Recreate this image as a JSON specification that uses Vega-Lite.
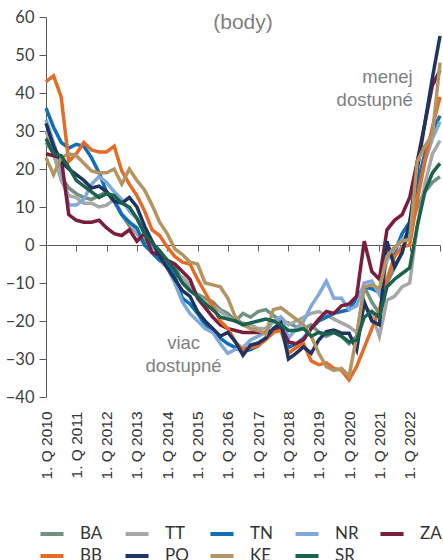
{
"$schema":"https://vega.github.io/schema/vega-lite/v6.json",
"width":394,"height":380,
"autosize":{"type":"none"},
"padding":{"left":46,"top":17,"right":3,"bottom":163},
"background":"white",
"config":{"view":{"stroke":null},"font":"Liberation Sans","axisY":{"labelOverlap":false,"labelFlush":false}},
"title":{"text":"(body)","fontSize":21,"fontWeight":"normal","color":"#7f7f7f","font":"Liberation Sans","anchor":"middle","offset":-24},
"datasets":{
"idx":[
{"t":2010.00,"BA":27,"BB":43,"TT":30,"PO":32,"TN":36,"KE":23,"NR":33,"SR":28,"ZA":24},
{"t":2010.25,"BA":24,"BB":44.5,"TT":24,"PO":26,"TN":31,"KE":18.5,"NR":27,"SR":24,"ZA":23.5},
{"t":2010.50,"BA":18,"BB":39,"TT":17,"PO":22,"TN":27,"KE":23,"NR":20,"SR":23.5,"ZA":23},
{"t":2010.75,"BA":15,"BB":22,"TT":13,"PO":20,"TN":25.5,"KE":24,"NR":10.5,"SR":20.5,"ZA":8},
{"t":2011.00,"BA":13.5,"BB":24,"TT":12.5,"PO":18.5,"TN":26.5,"KE":23.5,"NR":10.5,"SR":17,"ZA":6.5},
{"t":2011.25,"BA":12.5,"BB":27,"TT":11,"PO":17,"TN":26,"KE":21.5,"NR":12,"SR":15.5,"ZA":6},
{"t":2011.50,"BA":12,"BB":25,"TT":11,"PO":15,"TN":23,"KE":19.5,"NR":16,"SR":14,"ZA":6},
{"t":2011.75,"BA":13,"BB":24.5,"TT":10,"PO":15.5,"TN":19,"KE":19,"NR":18,"SR":12.5,"ZA":6.5},
{"t":2012.00,"BA":14,"BB":24.5,"TT":10.5,"PO":14,"TN":14,"KE":19,"NR":16.5,"SR":13.5,"ZA":4.5},
{"t":2012.25,"BA":12,"BB":26,"TT":12,"PO":11.5,"TN":11.5,"KE":20,"NR":14,"SR":13,"ZA":3},
{"t":2012.50,"BA":8,"BB":19.5,"TT":8,"PO":11,"TN":8,"KE":16,"NR":12,"SR":11,"ZA":2.5},
{"t":2012.75,"BA":5,"BB":16,"TT":6,"PO":12.5,"TN":6,"KE":20,"NR":9,"SR":10,"ZA":4},
{"t":2013.00,"BA":3,"BB":13,"TT":3,"PO":10,"TN":4.5,"KE":17,"NR":7,"SR":7,"ZA":1},
{"t":2013.25,"BA":1,"BB":9,"TT":0,"PO":5,"TN":0,"KE":14.5,"NR":3,"SR":3,"ZA":3},
{"t":2013.50,"BA":0,"BB":4,"TT":-2,"PO":1,"TN":-2,"KE":10.5,"NR":0,"SR":0.5,"ZA":-2},
{"t":2013.75,"BA":-2,"BB":2.5,"TT":-4,"PO":-3,"TN":-4,"KE":6,"NR":-3,"SR":-1.5,"ZA":-2.5},
{"t":2014.00,"BA":-4,"BB":-0.5,"TT":-6,"PO":-6,"TN":-5,"KE":3,"NR":-6,"SR":-4,"ZA":-4},
{"t":2014.25,"BA":-6,"BB":-3,"TT":-7.5,"PO":-9,"TN":-8,"KE":-1,"NR":-10,"SR":-6.5,"ZA":-5},
{"t":2014.50,"BA":-9,"BB":-4.5,"TT":-8.5,"PO":-12,"TN":-14,"KE":-2.5,"NR":-15,"SR":-10,"ZA":-7},
{"t":2014.75,"BA":-11,"BB":-5,"TT":-10.5,"PO":-13.5,"TN":-15.5,"KE":-4.5,"NR":-18,"SR":-12,"ZA":-9},
{"t":2015.00,"BA":-13,"BB":-9,"TT":-13.5,"PO":-17.5,"TN":-18,"KE":-5,"NR":-20,"SR":-13.5,"ZA":-14},
{"t":2015.25,"BA":-14,"BB":-12.5,"TT":-15,"PO":-20,"TN":-21,"KE":-10,"NR":-22,"SR":-15.5,"ZA":-16.5},
{"t":2015.50,"BA":-15,"BB":-16,"TT":-16,"PO":-22,"TN":-23,"KE":-10.5,"NR":-23,"SR":-17,"ZA":-19},
{"t":2015.75,"BA":-17,"BB":-20,"TT":-17.5,"PO":-24,"TN":-24.5,"KE":-11,"NR":-26,"SR":-19,"ZA":-21},
{"t":2016.00,"BA":-18,"BB":-22,"TT":-19,"PO":-23,"TN":-26,"KE":-14,"NR":-28.5,"SR":-19.5,"ZA":-22},
{"t":2016.25,"BA":-20,"BB":-25.5,"TT":-20,"PO":-25.5,"TN":-27,"KE":-19,"NR":-27.5,"SR":-20,"ZA":-22.5},
{"t":2016.50,"BA":-18,"BB":-27.5,"TT":-20.5,"PO":-29,"TN":-28,"KE":-21,"NR":-27,"SR":-21,"ZA":-23},
{"t":2016.75,"BA":-19,"BB":-27,"TT":-21,"PO":-26.3,"TN":-27.5,"KE":-22,"NR":-25,"SR":-20.5,"ZA":-23},
{"t":2017.00,"BA":-17.5,"BB":-26.5,"TT":-22,"PO":-25.8,"TN":-26.5,"KE":-22.5,"NR":-24,"SR":-20,"ZA":-23},
{"t":2017.25,"BA":-17,"BB":-25,"TT":-22,"PO":-24.5,"TN":-24.5,"KE":-23.5,"NR":-23,"SR":-19.5,"ZA":-23},
{"t":2017.50,"BA":-18.5,"BB":-23,"TT":-20,"PO":-22,"TN":-23,"KE":-17,"NR":-20,"SR":-20,"ZA":-22.5},
{"t":2017.75,"BA":-20,"BB":-22.5,"TT":-19,"PO":-20.5,"TN":-21,"KE":-16.5,"NR":-19,"SR":-21,"ZA":-21.5},
{"t":2018.00,"BA":-20.5,"BB":-28.5,"TT":-21,"PO":-30,"TN":-27,"KE":-18,"NR":-24.5,"SR":-22.5,"ZA":-25.5},
{"t":2018.25,"BA":-21.5,"BB":-27,"TT":-20,"PO":-28.5,"TN":-26,"KE":-19.5,"NR":-22,"SR":-22.5,"ZA":-26},
{"t":2018.50,"BA":-22,"BB":-26,"TT":-19,"PO":-26.8,"TN":-24.5,"KE":-21,"NR":-20,"SR":-22,"ZA":-25},
{"t":2018.75,"BA":-21,"BB":-30.5,"TT":-18,"PO":-28.5,"TN":-22,"KE":-24,"NR":-16,"SR":-24,"ZA":-22},
{"t":2019.00,"BA":-23,"BB":-31.5,"TT":-17.5,"PO":-25,"TN":-20,"KE":-28.5,"NR":-13,"SR":-23,"ZA":-19.5},
{"t":2019.25,"BA":-24,"BB":-31,"TT":-18.5,"PO":-22.8,"TN":-19,"KE":-32,"NR":-9.5,"SR":-23.5,"ZA":-17.5},
{"t":2019.50,"BA":-23,"BB":-32.5,"TT":-19.5,"PO":-22.4,"TN":-18,"KE":-33,"NR":-14,"SR":-23,"ZA":-18},
{"t":2019.75,"BA":-24,"BB":-33,"TT":-20.5,"PO":-23.2,"TN":-17.5,"KE":-32.5,"NR":-14,"SR":-24,"ZA":-16},
{"t":2020.00,"BA":-26,"BB":-35.5,"TT":-21.5,"PO":-23.2,"TN":-17,"KE":-34.5,"NR":-17,"SR":-25.5,"ZA":-15.5},
{"t":2020.25,"BA":-24,"BB":-32,"TT":-23,"PO":-27.6,"TN":-14,"KE":-24,"NR":-16,"SR":-25,"ZA":-13.5},
{"t":2020.50,"BA":-11,"BB":-27,"TT":-16,"PO":-15,"TN":-11,"KE":-11,"NR":-10,"SR":-19,"ZA":1},
{"t":2020.75,"BA":-15,"BB":-22,"TT":-18,"PO":-20,"TN":-11.5,"KE":-10.5,"NR":-9.5,"SR":-17.5,"ZA":-7},
{"t":2021.00,"BA":-18,"BB":-17,"TT":-24,"PO":-21,"TN":-12.5,"KE":-11.5,"NR":-13,"SR":-19,"ZA":-9},
{"t":2021.25,"BA":-10,"BB":-9,"TT":-14.5,"PO":1,"TN":-3,"KE":-3,"NR":-4,"SR":-11,"ZA":4},
{"t":2021.50,"BA":-6,"BB":-3,"TT":-13.5,"PO":-5.7,"TN":-2,"KE":-0.5,"NR":-1,"SR":-9,"ZA":6.5},
{"t":2021.75,"BA":-2,"BB":-0.5,"TT":-11,"PO":-2,"TN":3,"KE":1,"NR":1.5,"SR":-7.5,"ZA":8},
{"t":2022.00,"BA":4,"BB":0,"TT":-10,"PO":6,"TN":6,"KE":1.5,"NR":3.5,"SR":-6,"ZA":12.5},
{"t":2022.25,"BA":10,"BB":12,"TT":5,"PO":20,"TN":16,"KE":22,"NR":12,"SR":5,"ZA":22},
{"t":2022.50,"BA":14,"BB":22,"TT":16,"PO":32,"TN":24,"KE":26,"NR":22,"SR":14,"ZA":32},
{"t":2022.75,"BA":16.5,"BB":31,"TT":24,"PO":44,"TN":30,"KE":29,"NR":28,"SR":19,"ZA":42},
{"t":2023.00,"BA":18,"BB":39,"TT":27.5,"PO":55,"TN":34,"KE":48,"NR":32.5,"SR":21.5,"ZA":46}
],
"more":[{"x":2022.1,"y":44.2,"text":"menej"},{"x":2022.1,"y":38.2,"text":"dostupné"}],
"less":[{"x":2014.54,"y":-25.8,"text":"viac"},{"x":2014.54,"y":-31.8,"text":"dostupné"}]
},
"layer":[
{"data":{"name":"idx"},
 "transform":[{"fold":["BA","TT","TN","NR","ZA","BB","PO","KE","SR"],"as":["region","value"]}],
 "mark":{"type":"line","strokeWidth":3.5},
 "encoding":{
  "x":{"field":"t","type":"quantitative","scale":{"domain":[2010,2023],"nice":false,"zero":false},
   "axis":{"orient":"bottom","values":[2010,2011,2012,2013,2014,2015,2016,2017,2018,2019,2020,2021,2022],"labelExpr":"'1. Q ' + datum.value","labelAngle":270,"labelAlign":"right","labelBaseline":"middle","labelFlush":false,"labelOverlap":false,"domain":false,"ticks":false,"grid":false,"labelPadding":14,"labelFontSize":15.5,"labelFont":"Liberation Sans","labelColor":"#333333","title":null}},
  "y":{"field":"value","type":"quantitative","scale":{"domain":[-40,60],"nice":false,"zero":false},
   "axis":{"values":[-40,-30,-20,-10,0,10,20,30,40,50,60],"labelOverlap":false,"labelFlush":false,"grid":false,"domainColor":"#595959","tickColor":"#595959","tickSize":7,"labelFontSize":16.5,"labelFont":"Lato","labelColor":"#404040","labelPadding":5,"title":null}},
  "color":{"field":"region","type":"nominal",
   "scale":{"domain":["BA","TT","TN","NR","ZA","BB","PO","KE","SR"],"range":["#6F9283","#A5A8A7","#0F6FB6","#7FA9DA","#7B1D3C","#E46C27","#1F3460","#B39563","#1B624E"]},
   "legend":{"orient":"none","legendX":-8,"legendY":503,"direction":"horizontal","columns":5,"gridAlign":"all","symbolType":"stroke","symbolStrokeWidth":4,"symbolSize":530,"labelFontSize":17,"labelFont":"Lato","labelColor":"#333333","labelOffset":14,"columnPadding":13,"rowPadding":-3,"title":null}}
 }},
{"data":{"name":"more"},
 "mark":{"type":"text","align":"right","baseline":"middle","fontSize":18.5,"font":"Liberation Sans","color":"#7f7f7f"},
 "encoding":{
  "x":{"field":"x","type":"quantitative","axis":{"orient":"bottom","offset":-152,"values":[2010,2011,2012,2013,2014,2015,2016,2017,2018,2019,2020,2021,2022,2023],"labels":false,"domainColor":"#595959","tickColor":"#595959","tickSize":6,"grid":false,"title":null}},
  "y":{"field":"y","type":"quantitative","axis":{"values":[-40,-30,-20,-10,0,10,20,30,40,50,60],"labelOverlap":false,"labelFlush":false,"grid":false,"domainColor":"#595959","tickColor":"#595959","tickSize":7,"labelFontSize":16.5,"labelFont":"Lato","labelColor":"#404040","labelPadding":5,"title":null}},
  "text":{"field":"text"}
 }},
{"data":{"name":"less"},
 "mark":{"type":"text","align":"center","baseline":"middle","fontSize":18.5,"font":"Liberation Sans","color":"#7f7f7f"},
 "encoding":{
  "x":{"field":"x","type":"quantitative","axis":null},
  "y":{"field":"y","type":"quantitative","axis":{"values":[-40,-30,-20,-10,0,10,20,30,40,50,60],"labelOverlap":false,"labelFlush":false,"grid":false,"domainColor":"#595959","tickColor":"#595959","tickSize":7,"labelFontSize":16.5,"labelFont":"Lato","labelColor":"#404040","labelPadding":5,"title":null}},
  "text":{"field":"text"}
 }}
],
"resolve":{"axis":{"x":"independent"}}
}
